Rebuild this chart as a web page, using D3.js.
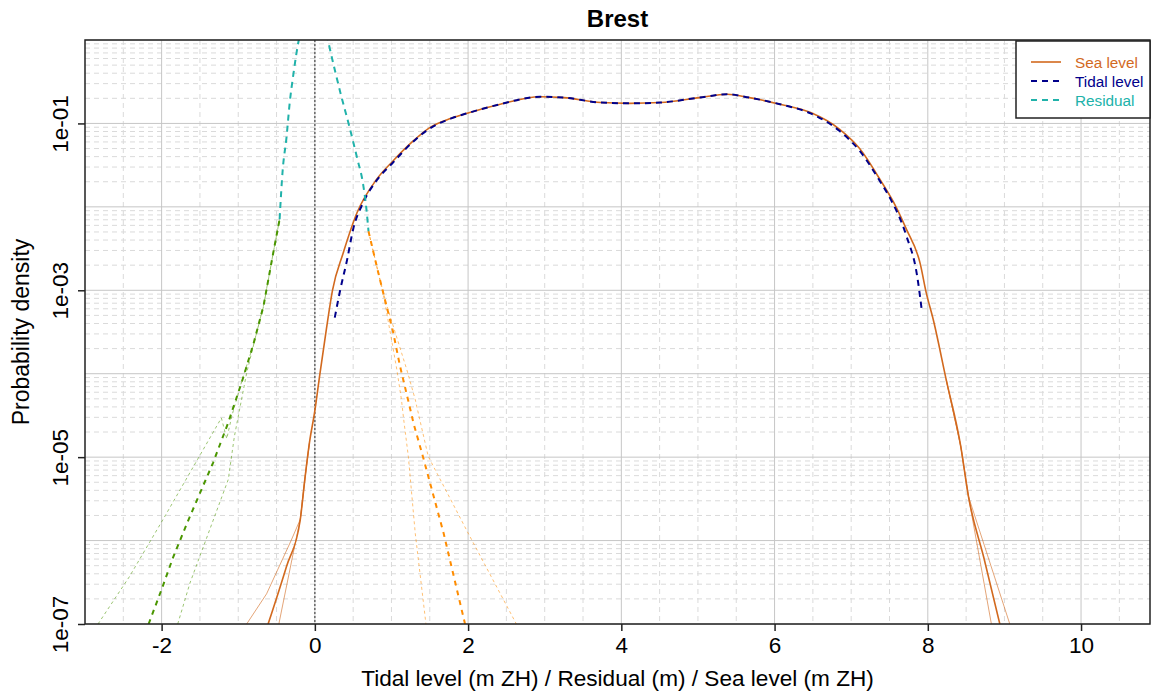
<!DOCTYPE html>
<html><head><meta charset="utf-8">
<script src="https://cdn.jsdelivr.net/npm/d3@7/dist/d3.min.js"></script>
<style>
body{margin:0;background:#fff}
text{font-family:"Liberation Sans",Arial,Helvetica,sans-serif}
</style>
</head><body>
<svg id="chart" width="1152" height="691"></svg>
<script>
// ---------------- data ----------------
const chartTitle = "Brest";
const xLabel = "Tidal level (m ZH) / Residual (m) / Sea level (m ZH)";
const yLabel = "Probability density";
const xTicks = [-2, 0, 2, 4, 6, 8, 10];
const yTicks = [1e-1, 1e-3, 1e-5, 1e-7];
const yTickLabels = ["1e-01", "1e-03", "1e-05", "1e-07"];
const legendNames = ["Sea level", "Tidal level", "Residual"];

// Sea level density [x, density]
const seaLevel = [[-0.61,1.0e-7],[-0.37,4.9e-7],[-0.19,1.8e-6],[-0.13,5.5e-6],[-0.07,1.5e-5],[0,3.6e-5],[0.06,9.1e-5],[0.15,3.4e-4],[0.23,1.0e-3],[0.37,2.8e-3],[0.55,8.5e-3],[0.80,0.021],[1.02,0.0355],[1.27,0.060],[1.50,0.089],[1.78,0.115],[2.02,0.135],[2.42,0.17],[2.94,0.209],[3.25,0.204],[3.73,0.178],[4.11,0.174],[4.51,0.178],[5.02,0.204],[5.38,0.224],[5.67,0.204],[6.07,0.17],[6.47,0.135],[6.85,0.085],[7.11,0.050],[7.38,0.021],[7.59,0.0098],[7.72,0.0054],[7.90,0.0021],[7.98,9.3e-4],[8.07,4.5e-4],[8.24,8.5e-5],[8.43,1.35e-5],[8.53,3.4e-6],[8.73,6.3e-7],[8.94,1.0e-7]];
// Sea level tail bounds
const seaLevelLowLeft = [[-0.89,1.0e-7],[-0.63,2.3e-7],[-0.31,1.0e-6],[-0.19,1.8e-6],[-0.13,5.5e-6],[-0.07,1.5e-5]];
const seaLevelHighLeft = [[-0.47,1.0e-7],[-0.24,1.1e-6],[-0.19,1.8e-6],[-0.13,5.5e-6],[-0.07,1.5e-5]];
const seaLevelLowRight = [[8.24,8.5e-5],[8.43,1.35e-5],[8.53,3.4e-6],[8.83,1.0e-7]];
const seaLevelHighRight = [[8.24,8.5e-5],[8.43,1.35e-5],[8.53,3.4e-6],[9.07,1.0e-7]];

// Tidal level density
const tidalLevel = [[0.26,4.7e-4],[0.33,1.0e-3],[0.42,2.3e-3],[0.50,5.4e-3],[0.63,0.0112],[0.80,0.0204],[1.02,0.034],[1.27,0.059],[1.50,0.087],[1.78,0.115],[2.02,0.135],[2.42,0.17],[2.94,0.209],[3.25,0.204],[3.73,0.178],[4.11,0.174],[4.51,0.178],[5.02,0.204],[5.38,0.224],[5.67,0.204],[6.07,0.17],[6.47,0.132],[6.85,0.081],[7.11,0.047],[7.38,0.020],[7.51,0.0126],[7.72,0.0045],[7.86,0.0015],[7.92,5.9e-4]];

// Residual density (central part)
const residual = [[-0.46,7.1e-3],[-0.42,0.0275],[-0.37,0.068],[-0.33,0.17],[-0.28,0.39],[-0.21,1.0],[-0.12,2.0],[0.0,2.6],[0.10,2.0],[0.17,1.0],[0.26,0.44],[0.35,0.204],[0.44,0.1],[0.55,0.039],[0.63,0.0186],[0.67,0.010],[0.70,5.1e-3]];
// Residual lower tail (fit + bounds)
const residualLowTail = [[-2.17,1.0e-7],[-2.00,2.6e-7],[-1.85,6.3e-7],[-1.67,1.6e-6],[-1.50,3.7e-6],[-1.33,8.5e-6],[-1.13,2.6e-5],[-1.03,4.9e-5],[-0.93,9.3e-5],[-0.80,2.3e-4],[-0.67,6.5e-4],[-0.55,2.6e-3],[-0.46,7.1e-3]];
const residualLowTailOuter = [[-2.83,1.0e-7],[-2.42,3.7e-7],[-1.98,1.8e-6],[-1.22,2.95e-5],[-1.15,1.66e-5],[-1.08,3.2e-5],[-0.94,9.0e-5],[-0.80,2.25e-4],[-0.67,6.4e-4],[-0.55,2.6e-3],[-0.46,7.1e-3]];
const residualLowTailInner = [[-1.79,1.0e-7],[-1.63,3.1e-7],[-1.13,5.4e-6],[-1.05,1.78e-5],[-0.89,1.02e-4],[-0.79,2.4e-4],[-0.67,6.6e-4],[-0.55,2.6e-3],[-0.46,7.1e-3]];
// Residual upper tail (fit + bounds)
const residualHighTail = [[0.70,5.1e-3],[0.81,1.9e-3],[0.91,8.0e-4],[1.02,3.2e-4],[1.11,1.25e-4],[1.22,4.7e-5],[1.29,2.5e-5],[1.41,1.02e-5],[1.68,1.23e-6],[1.96,1.0e-7]];
const residualHighTailInner = [[0.70,5.1e-3],[0.81,1.9e-3],[0.91,7.5e-4],[1.07,1.12e-4],[1.13,4.9e-5],[1.16,2.8e-5],[1.22,1.02e-5],[1.31,1.23e-6],[1.45,1.0e-7]];
const residualHighTailOuter = [[0.70,5.1e-3],[0.81,1.9e-3],[0.93,7.0e-4],[1.20,1.12e-4],[1.31,4.9e-5],[1.37,2.8e-5],[1.48,1.02e-5],[2.00,1.23e-6],[2.63,1.0e-7]];

// ---------------- layout ----------------
const L = 85, R = 1150, T = 40, B = 624;
const colSea = "#D2691E", colTide = "#00008B", colRes = "#20B2AA";
const colGreen = "#4A9600", colOrange = "#FF8C00";
const FONT = "'Liberation Sans',Arial,sans-serif";

const svg = d3.select("#chart");
const x = d3.scaleLinear().domain([-3.0, 10.9]).range([L, R]);
const y = d3.scaleLog().domain([1e-7, 1]).range([B, T]);

// grid
const grid = svg.append("g");
const xMinor = d3.range(-2.5, 10.51, 0.5).filter(v => Math.abs(v % 2) > 1e-9);
const yMinor = [];
for (let e = -7; e < 0; e++) for (let k = 2; k <= 9; k++) yMinor.push(k * Math.pow(10, e));
const yMajor = d3.range(-7, 1).map(e => Math.pow(10, e));
grid.selectAll(".xm").data(xMinor).join("line")
  .attr("x1", d => x(d)).attr("x2", d => x(d)).attr("y1", T).attr("y2", B)
  .attr("stroke", "#dadada").attr("stroke-width", 1).attr("stroke-dasharray", "5,4");
grid.selectAll(".ym").data(yMinor).join("line")
  .attr("x1", L).attr("x2", R).attr("y1", d => y(d)).attr("y2", d => y(d))
  .attr("stroke", "#dadada").attr("stroke-width", 1).attr("stroke-dasharray", "5,4");
grid.selectAll(".xM").data(xTicks).join("line")
  .attr("x1", d => x(d)).attr("x2", d => x(d)).attr("y1", T).attr("y2", B)
  .attr("stroke", "#c6c6c6").attr("stroke-width", 1);
grid.selectAll(".yM").data(yMajor).join("line")
  .attr("x1", L).attr("x2", R).attr("y1", d => y(d)).attr("y2", d => y(d))
  .attr("stroke", "#c6c6c6").attr("stroke-width", 1);

// zero line
svg.append("line").attr("x1", x(0)).attr("x2", x(0)).attr("y1", T).attr("y2", B)
  .attr("stroke", "#555").attr("stroke-width", 1.3).attr("stroke-dasharray", "2,2");

// clip
svg.append("clipPath").attr("id", "clip").append("rect")
  .attr("x", L).attr("y", T).attr("width", R - L).attr("height", B - T);
const plot = svg.append("g").attr("clip-path", "url(#clip)");
const smooth = d3.line().x(d => x(d[0])).y(d => y(d[1])).curve(d3.curveMonotoneX);
const straight = d3.line().x(d => x(d[0])).y(d => y(d[1]));
function draw(data, gen, color, width, dash, opacity) {
  plot.append("path").datum(data).attr("d", gen).attr("fill", "none")
    .attr("stroke", color).attr("stroke-width", width)
    .attr("stroke-dasharray", dash || null).attr("stroke-opacity", opacity == null ? 1 : opacity);
}

// residual tails
draw(residualLowTailOuter, straight, colGreen, 1, "3,3", 0.55);
draw(residualLowTailInner, straight, colGreen, 1, "3,3", 0.55);
draw(residualLowTail, straight, colGreen, 2, "5,5", 1);
draw(residualHighTailOuter, straight, colOrange, 1, "3,3", 0.55);
draw(residualHighTailInner, straight, colOrange, 1, "3,3", 0.55);
draw(residualHighTail, straight, colOrange, 2, "5,5", 1);
// sea level bounds
draw(seaLevelLowLeft, straight, colSea, 1, null, 0.6);
draw(seaLevelHighLeft, straight, colSea, 1, null, 0.6);
draw(seaLevelLowRight, straight, colSea, 1, null, 0.6);
draw(seaLevelHighRight, straight, colSea, 1, null, 0.6);
// main lines
draw(seaLevel, smooth, colSea, 1.6, null, 1);
draw(tidalLevel, smooth, colTide, 2, "6,5", 1);
draw(residual, smooth, colRes, 2, "6,5", 1);

// box
svg.append("rect").attr("x", L).attr("y", T).attr("width", R - L).attr("height", B - T)
  .attr("fill", "none").attr("stroke", "#222").attr("stroke-width", 1.5);

// axes
const xAxis = svg.append("g").attr("transform", `translate(0,${B})`)
  .call(d3.axisBottom(x).tickValues(xTicks).tickSize(7).tickPadding(6));
xAxis.select(".domain").remove();
xAxis.selectAll("line").attr("stroke", "#222").attr("stroke-width", 1.5);
xAxis.selectAll("text").attr("font-size", 22.5).attr("fill", "#000")
  .attr("font-family", FONT).attr("dy", "0.71em")
  .text(d => d < 0 ? "-" + Math.abs(d) : String(d));

const yAxis = svg.append("g").attr("transform", `translate(${L},0)`)
  .call(d3.axisLeft(y).tickValues(yTicks).tickSize(7).tickFormat((d, i) => yTickLabels[i]));
yAxis.select(".domain").remove();
yAxis.selectAll("line").attr("stroke", "#222").attr("stroke-width", 1.5);
yAxis.selectAll("text").attr("font-size", 22.5).attr("fill", "#000")
  .attr("font-family", FONT)
  .attr("text-anchor", "middle").attr("x", null).attr("dy", null)
  .attr("transform", "translate(-17,0) rotate(-90)").attr("y", 0);

// titles
svg.append("text").attr("x", (L + R) / 2).attr("y", 27).attr("text-anchor", "middle")
  .attr("font-size", 24).attr("font-weight", "bold").text(chartTitle);
svg.append("text").attr("x", (L + R) / 2).attr("y", 686).attr("text-anchor", "middle")
  .attr("font-size", 22.6).text(xLabel);
svg.append("text").attr("transform", `translate(29,${(T + B) / 2}) rotate(-90)`)
  .attr("text-anchor", "middle").attr("font-size", 23).text(yLabel);

// legend
const lg = svg.append("g");
lg.append("rect").attr("x", 1016).attr("y", 41).attr("width", 134).attr("height", 77)
  .attr("fill", "#fff").attr("stroke", "#222").attr("stroke-width", 1.5);
const lgItems = [
  {name: legendNames[0], color: colSea, dash: null},
  {name: legendNames[1], color: colTide, dash: "6,5"},
  {name: legendNames[2], color: colRes, dash: "6,5"}
];
lgItems.forEach((it, i) => {
  const yy = 62 + i * 19;
  lg.append("line").attr("x1", 1031).attr("x2", 1061).attr("y1", yy).attr("y2", yy)
    .attr("stroke", it.color).attr("stroke-width", it.dash ? 2 : 1.6)
    .attr("stroke-dasharray", it.dash);
  lg.append("text").attr("x", 1075).attr("y", yy + 5.5).attr("font-size", 15.3)
    .attr("fill", it.color).text(it.name);
});
</script>
</body></html>
